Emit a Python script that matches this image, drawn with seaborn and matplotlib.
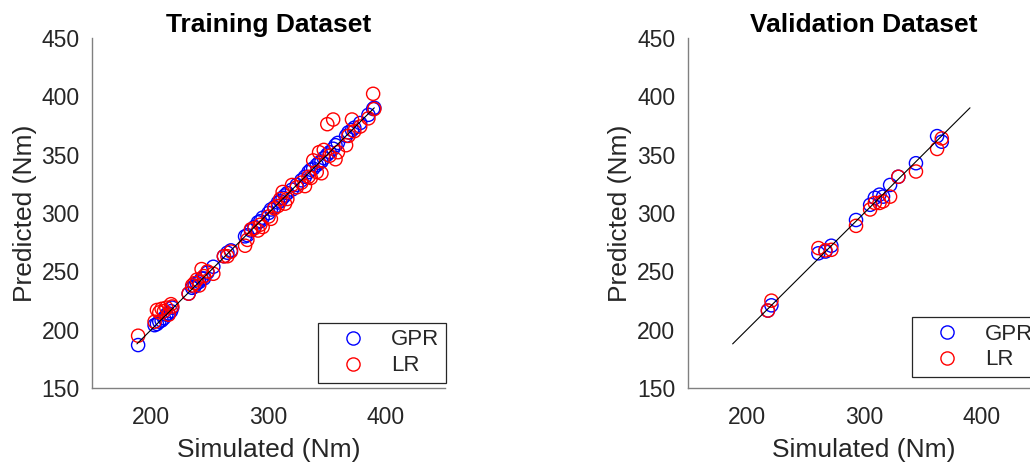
import matplotlib
matplotlib.use("Agg")
import matplotlib.pyplot as plt
import seaborn as sns
import pandas as pd
from matplotlib.lines import Line2D

# ---------------- data ----------------
train_sim = [189, 203, 205, 207, 209, 211, 213, 215, 217, 218,
             232, 235, 237, 239, 241, 243, 245, 248, 253, 262,
             265, 268, 280, 282, 285, 288, 291, 293, 295, 300,
             302, 305, 308, 310, 312, 314, 316, 320, 324, 328,
             331, 334, 336, 338, 341, 343, 345, 347, 350, 352,
             355, 357, 359, 366, 368, 371, 373, 378, 385, 389, 390]
train_gpr = [187, 204, 205, 207, 208, 210, 213, 214, 216, 219,
             231, 236, 237, 240, 241, 244, 244, 249, 254, 263,
             266, 268, 280, 281, 285, 288, 292, 293, 296, 300,
             303, 305, 309, 310, 313, 315, 317, 320, 324, 328,
             331, 335, 337, 338, 341, 343, 344, 347, 350, 352,
             355, 358, 360, 366, 369, 371, 373, 377, 384, 389, 390]
train_lr = [195, 207, 217, 215, 218, 216, 219, 213, 222, 220,
            231, 238, 240, 243, 238, 252, 246, 250, 248, 263,
            263, 267, 272, 277, 286, 287, 285, 290, 288, 297,
            295, 304, 306, 312, 318, 308, 312, 324, 322, 326,
            323, 331, 330, 345, 335, 352, 334, 354, 376, 349,
            380, 346, 352, 358, 366, 380, 370, 374, 381, 402, 389]

val_sim = [218, 221, 261, 267, 272, 293, 305, 309, 313, 316,
           322, 329, 344, 362, 366]
val_gpr = [216.5, 221, 265.5, 267, 272, 294, 307, 313, 315.7, 314,
           324, 331, 342.6, 365.8, 361]
val_lr = [216.5, 225, 270, 268, 268.5, 289, 303, 308.6, 308.6, 310,
          314, 331, 335.5, 354.8, 363.8]

models = ["GPR", "LR"]
ref_line = [188, 390]
x_ticks = [200, 300, 400]
y_ticks = [150, 200, 250, 300, 350, 400, 450]
titles = ["Training Dataset", "Validation Dataset"]
xlabel = "Simulated (Nm)"
ylabel = "Predicted (Nm)"

# ---------------- style ----------------
sns.set_style("white")
plt.rcParams["font.family"] = ["Liberation Sans", "DejaVu Sans"]
palette = {"GPR": (0, 0, 1), "LR": (1, 0, 0)}
axis_grey = "#808080"
text_grey = "#262626"

W, H = 1030, 468
fig = plt.figure(figsize=(W / 100, H / 100), dpi=100)

ax_w = 352.5 / W
ax_h = 350.6 / H
ax_b = (H - 388.3) / H
axes = [fig.add_axes([92.3 / W, ax_b, ax_w, ax_h]),
        fig.add_axes([688.0 / W, ax_b, ax_w, ax_h])]

panels = [(train_sim, train_gpr, train_lr), (val_sim, val_gpr, val_lr)]
legend_anchor = [(0.640, 0.015), (0.635, 0.032)]

for ax, (sim, gpr, lr), title, anchor in zip(axes, panels, titles, legend_anchor):
    df = pd.DataFrame({
        "sim": list(sim) + list(sim),
        "pred": list(gpr) + list(lr),
        "model": ["GPR"] * len(sim) + ["LR"] * len(sim),
    })
    sns.scatterplot(data=df, x="sim", y="pred", hue="model", palette=palette,
                    hue_order=models, s=90, ax=ax, legend=False, zorder=2)
    for coll in ax.collections:
        fc = coll.get_facecolors()
        coll.set_edgecolors(fc)
        coll.set_facecolors("none")
        coll.set_linewidths(1.0)
    sns.lineplot(x=ref_line, y=ref_line, color="black", lw=0.8, ax=ax, zorder=3)

    ax.set_xlim(150, 450)
    ax.set_ylim(150, 450)
    ax.set_xticks(x_ticks)
    ax.set_yticks(y_ticks)
    ax.tick_params(axis="both", direction="in", length=6, width=1.0,
                   color=axis_grey, labelsize=16.5, labelcolor=text_grey)
    ax.tick_params(axis="x", pad=13)
    ax.tick_params(axis="y", pad=9)
    for side in ["top", "right"]:
        ax.spines[side].set_visible(False)
    for side in ["left", "bottom"]:
        ax.spines[side].set_color(axis_grey)
        ax.spines[side].set_linewidth(1.0)
    ax.set_xlabel(xlabel, fontsize=19, color=text_grey, labelpad=6)
    ax.set_ylabel(ylabel, fontsize=19, color=text_grey, labelpad=3.5)
    ax.set_title(title, fontsize=19, fontweight="bold", color="black", pad=4)

    handles = [Line2D([], [], linestyle="none", marker="o", markersize=9.5,
                      markerfacecolor="none", markeredgecolor=palette[m],
                      markeredgewidth=1.0) for m in models]
    leg = ax.legend(handles, models, loc="lower left", bbox_to_anchor=anchor,
                    fontsize=16, frameon=True, fancybox=False, framealpha=1,
                    handlelength=2.6, handletextpad=0.4, borderpad=0.3,
                    labelspacing=0.22, borderaxespad=0)
    leg.get_frame().set_edgecolor(text_grey)
    leg.get_frame().set_linewidth(0.9)
    for t in leg.get_texts():
        t.set_color(text_grey)

fig.savefig("out.png", dpi=100)
